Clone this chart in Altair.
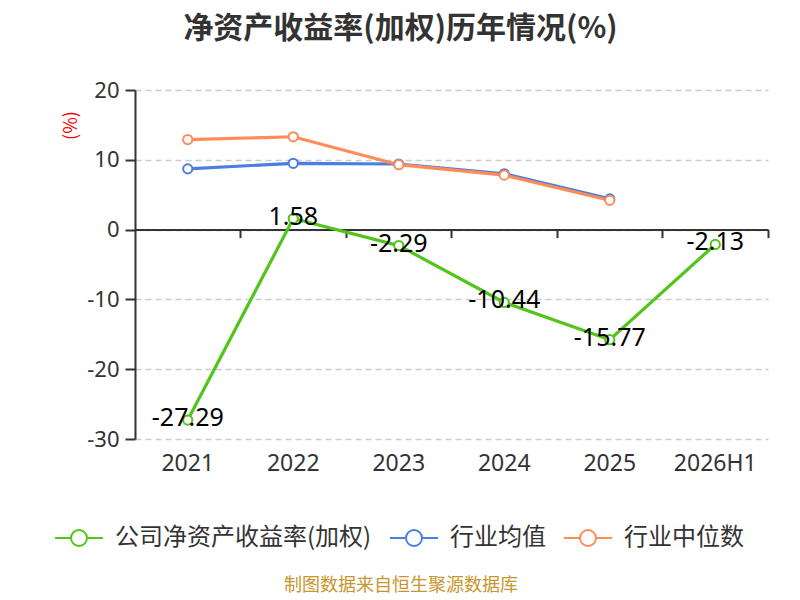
import altair as alt
import pandas as pd

years = ["2021", "2022", "2023", "2024", "2025", "2026H1"]
company = [-27.29, 1.58, -2.29, -10.44, -15.77, -2.13]
ind_mean = [8.7, 9.5, 9.4, 8.0, 4.4, None]
ind_median = [12.9, 13.3, 9.3, 7.8, 4.2, None]
series = ["公司净资产收益率(加权)", "行业均值", "行业中位数"]
colors = ["#52c41a", "#4a7ee0", "#ff8c55"]
y_ticks = [-30, -20, -10, 0, 10, 20]
source_text = ["制图数据来自恒生聚源数据库"]

FONT = "Noto Sans CJK SC"
NUMFONT = "Noto Sans"

rows = []
for name, vals in zip(series, [company, ind_mean, ind_median]):
    for yr, v in zip(years, vals):
        if v is not None:
            rows.append({"year": yr, "value": v, "series": name, "label": f"{v:.2f}"})
df = pd.DataFrame(rows)

x_scale = alt.Scale(type="band", domain=years, paddingInner=0, paddingOuter=0)
y_scale = alt.Scale(domain=[-30, 20], nice=False, zero=False)
color_scale = alt.Scale(domain=series, range=colors)

legend = alt.Legend(
    orient="none", direction="horizontal", title=None,
    legendX=-73, legendY=431,
    symbolType="M-1.5,0L-0.5,0M0.5,0L1.5,0M-0.5,0A0.5,0.5 0 1,1 0.5,0A0.5,0.5 0 1,1 -0.5,0Z",
    symbolSize=1024, symbolStrokeWidth=2, symbolFillColor="white",
    labelFontSize=24, labelFont=FONT, labelColor="#333333", labelLimit=500,
    labelOffset=19, columnPadding=14, padding=0,
)

label_axis = alt.Axis(
    orient="bottom", domain=False, ticks=False, grid=False, labelPadding=13,
    labelFontSize=23, labelFont=NUMFONT, labelColor="#333333", title=None, labelAngle=0,
)
zero_axis = alt.Axis(
    orient="bottom", offset=-209.4, domain=True, ticks=True, labels=False, grid=False,
    bandPosition=1, tickSize=8, tickWidth=2, domainWidth=2, domainColor="#333333",
    tickColor="#333333", title=None,
)
y_axis = alt.Axis(
    values=y_ticks, labelFontSize=22, labelFont=NUMFONT, labelColor="#333333",
    labelExpr="datum.value < 0 ? '-' + abs(datum.value) : '' + datum.value",
    domain=True, domainWidth=2, domainColor="#333333", ticks=True, tickSize=10,
    tickWidth=2, tickColor="#333333", labelPadding=6,
    grid=True, gridDash=[6, 4], gridColor="#cccccc", gridWidth=1.5,
    title="(%)", titleColor="red", titleFontSize=18, titleFontWeight="normal",
    titleFont=FONT, titleX=-55, titleY=35, titleAngle=270,
)

base = alt.Chart(df)


def enc(axis_x=None):
    return dict(
        x=alt.X("year:N", scale=x_scale, axis=axis_x, bandPosition=0.5, sort=years),
        y=alt.Y("value:Q", scale=y_scale, axis=y_axis),
        color=alt.Color("series:N", scale=color_scale, legend=legend),
    )


layers = []
draw_order = [series[1], series[2], series[0]]
first = True
for s in draw_order:
    layers.append(
        base.transform_filter(alt.datum.series == s)
        .mark_line(strokeWidth=3.2)
        .encode(**enc(axis_x=label_axis if first else None))
    )
    first = False
for s in draw_order:
    layers.append(
        base.transform_filter(alt.datum.series == s)
        .mark_point(shape="circle", filled=False, fill="white", size=85, strokeWidth=2, opacity=1)
        .encode(**enc())
    )

text_layer = (
    base.transform_filter(alt.datum.series == series[0])
    .mark_text(fontSize=25, font=NUMFONT, color="black", baseline="middle", dy=-2)
    .encode(
        x=alt.X("year:N", scale=x_scale, axis=zero_axis, bandPosition=0.5, sort=years),
        y=alt.Y("value:Q", scale=y_scale, axis=y_axis),
        text="label:N",
    )
)
layers.append(text_layer)

source = (
    alt.Chart(pd.DataFrame({"t": source_text}))
    .mark_text(fontSize=18, font=FONT, color="#c8962e", baseline="middle")
    .encode(x=alt.value(266), y=alt.value(496), text="t:N")
)
layers.append(source)

chart = (
    alt.layer(*layers)
    .resolve_axis(x="independent")
    .properties(
        width=633, height=349,
        autosize=alt.AutoSizeParams(type="none"),
        padding={"left": 127, "top": 82, "right": 24, "bottom": 161},
        title=alt.TitleParams(
            "净资产收益率(加权)历年情况(%)", fontSize=30, fontWeight="bold",
            font=FONT, color="#333333", anchor="middle", dx=-51, offset=35, frame="group",
        ),
    )
    .configure_view(stroke=None)
)

chart.save("out.html", embed_options={"renderer": "svg", "actions": False})
